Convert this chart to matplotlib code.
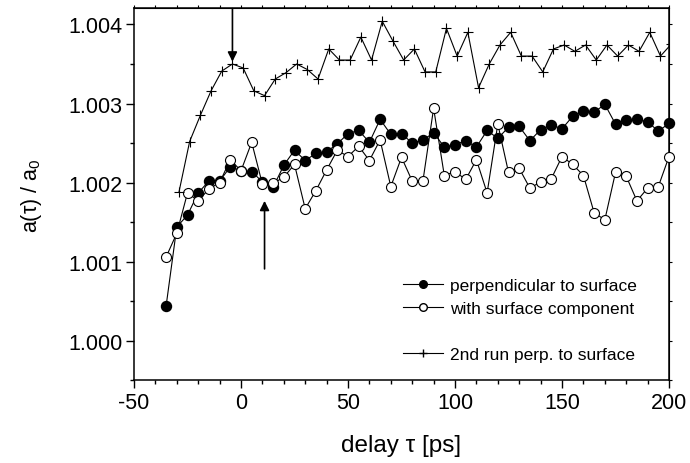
import numpy as np
import matplotlib
matplotlib.use('Agg')
import matplotlib.pyplot as plt
from matplotlib.lines import Line2D
from matplotlib.ticker import MultipleLocator

plt.rcParams['font.family'] = ['Liberation Sans', 'DejaVu Sans']
plt.rcParams['mathtext.fontset'] = 'custom'
plt.rcParams['mathtext.rm'] = 'Liberation Sans'
plt.rcParams['mathtext.it'] = 'Liberation Sans:italic'
plt.rcParams['axes.unicode_minus'] = False

# perpendicular to surface (filled circles)
perp_tau = np.arange(-35, 201, 5)
perp_val = [1.00044, 1.00144, 1.00159, 1.00187, 1.00202, 1.00202, 1.00220, 1.00215,
            1.00214, 1.00201, 1.00194, 1.00222, 1.00241, 1.00228, 1.00237, 1.00239,
            1.00249, 1.00262, 1.00266, 1.00251, 1.00280, 1.00261, 1.00262, 1.00250,
            1.00254, 1.00263, 1.00245, 1.00248, 1.00253, 1.00245, 1.00266, 1.00256,
            1.00270, 1.00271, 1.00253, 1.00267, 1.00273, 1.00268, 1.00284, 1.00290,
            1.00289, 1.00299, 1.00274, 1.00279, 1.00280, 1.00277, 1.00265, 1.00275]

# with surface component (open circles)
surf_tau = np.arange(-35, 201, 5)
surf_val = [1.00106, 1.00136, 1.00187, 1.00177, 1.00192, 1.00200, 1.00229, 1.00215,
            1.00251, 1.00198, 1.00199, 1.00207, 1.00223, 1.00167, 1.00190, 1.00216,
            1.00241, 1.00233, 1.00246, 1.00228, 1.00254, 1.00195, 1.00232, 1.00202,
            1.00202, 1.00294, 1.00209, 1.00214, 1.00204, 1.00229, 1.00187, 1.00274,
            1.00213, 1.00218, 1.00193, 1.00201, 1.00205, 1.00233, 1.00223, 1.00209,
            1.00162, 1.00153, 1.00213, 1.00208, 1.00177, 1.00193, 1.00195, 1.00233]

# 2nd run perp. to surface (crosses)
run2_tau = np.arange(-29, 202, 5)
run2_val = [1.00188, 1.00252, 1.00285, 1.00316, 1.00341, 1.00350, 1.00345, 1.00316,
            1.00310, 1.00331, 1.00339, 1.00350, 1.00343, 1.00331, 1.00369, 1.00355,
            1.00355, 1.00384, 1.00355, 1.00404, 1.00379, 1.00355, 1.00369, 1.00340,
            1.00340, 1.00395, 1.00360, 1.00390, 1.00320, 1.00350, 1.00374, 1.00390,
            1.00360, 1.00360, 1.00340, 1.00369, 1.00374, 1.00366, 1.00374, 1.00355,
            1.00374, 1.00360, 1.00374, 1.00366, 1.00390, 1.00360, 1.00375]

fig = plt.figure(figsize=(6.9, 4.64), dpi=100)
ax = fig.add_axes([0.1942, 0.178, 0.7754, 0.8016])

ax.plot(perp_tau, perp_val, color='black', lw=0.8, marker='o', ms=7.2,
        mfc='black', mec='black', zorder=3, clip_on=False)
ax.plot(surf_tau, surf_val, color='black', lw=0.8, marker='o', ms=7.2,
        mfc='white', mec='black', mew=0.8, zorder=4, clip_on=False)
ax.plot(run2_tau, run2_val, color='black', lw=0.8, marker='+', ms=7.5,
        mew=0.8, zorder=5)

ax.annotate('', xy=(-4, 1.00353), xytext=(-4, 1.0042),
            arrowprops=dict(arrowstyle='-|>', color='black', lw=1.2,
                            mutation_scale=14, shrinkA=0, shrinkB=0))
ax.annotate('', xy=(11, 1.00177), xytext=(11, 1.00091),
            arrowprops=dict(arrowstyle='-|>', color='black', lw=1.2,
                            mutation_scale=14, shrinkA=0, shrinkB=0))

ax.set_xlim(-50, 200)
ax.set_ylim(0.99950, 1.004202)
ax.xaxis.set_major_locator(MultipleLocator(50))
ax.xaxis.set_minor_locator(MultipleLocator(10))
ax.yaxis.set_major_locator(MultipleLocator(0.001))
ax.yaxis.set_minor_locator(MultipleLocator(0.0005))
ax.yaxis.set_major_formatter(plt.FormatStrFormatter('%.3f'))
ax.tick_params(which='both', direction='out', width=1, labelsize=15.5, pad=3)
ax.tick_params(which='major', length=5.5)
ax.tick_params(which='minor', length=3)
for s in ax.spines.values():
    s.set_linewidth(1.1)

# short ticks on top and right
sec_x = ax.secondary_xaxis('top')
sec_x.xaxis.set_major_locator(MultipleLocator(10))
sec_x.tick_params(direction='out', length=2, width=0.8, labeltop=False)
sec_y = ax.secondary_yaxis('right')
sec_y.yaxis.set_major_locator(MultipleLocator(0.0005))
sec_y.tick_params(direction='out', length=2, width=0.8, labelright=False)

ax.set_xlabel('delay τ [ps]', fontsize=17.5, labelpad=15)
ax.set_ylabel('a(τ) / a$_0$', fontsize=15.5, labelpad=17)

handles = [
    Line2D([], [], color='black', lw=0.8, marker='o', ms=5.5, mfc='black'),
    Line2D([], [], color='black', lw=0.8, marker='o', ms=5.5, mfc='white'),
    Line2D([], [], color='none'),
    Line2D([], [], color='black', lw=0.8, marker='+', ms=6),
]
labels = ['perpendicular to surface', 'with surface component', '',
          '2nd run perp. to surface']
ax.legend(handles, labels, loc='upper left', bbox_to_anchor=(0.503, 0.275),
          frameon=False, fontsize=12.5, handlelength=2.3, handletextpad=0.4,
          labelspacing=0.45, borderpad=0, borderaxespad=0)

fig.savefig('out.png', dpi=100)
